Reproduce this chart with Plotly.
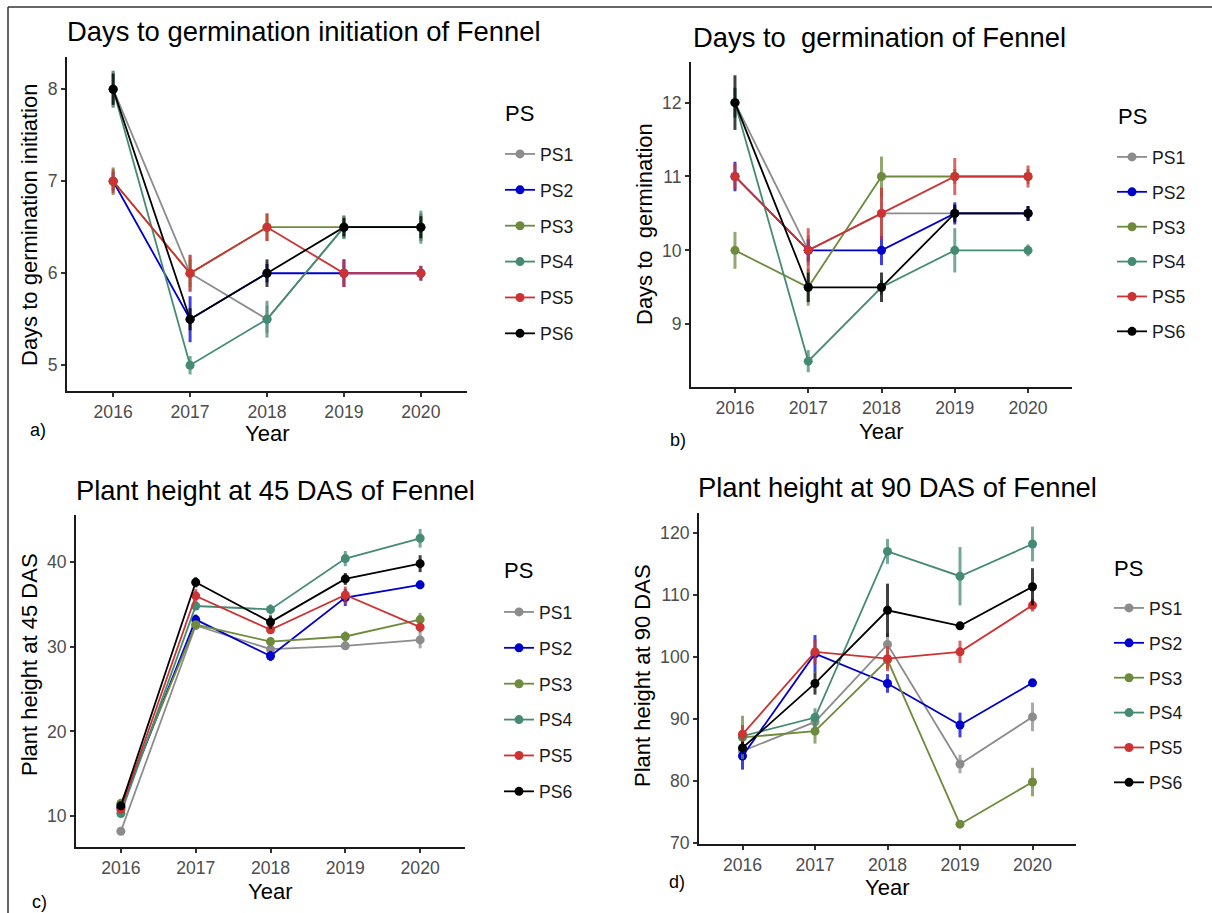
import plotly.graph_objects as go

W, H = 1212, 913

years = ["2016", "2017", "2018", "2019", "2020"]
ps_names = ["PS1", "PS2", "PS3", "PS4", "PS5", "PS6"]
ps_colors = ["#8c8c8c", "#0000cd", "#6e8b3d", "#458b74", "#cd3333", "#000000"]

# a) days to germination initiation
init_mean = {
    "PS1": [8, 6, 5.5, 6.5, 6.5],
    "PS2": [7, 5.5, 6, 6, 6],
    "PS3": [7, 6, 6.5, 6.5, 6.5],
    "PS4": [8, 5, 5.5, 6.5, 6.5],
    "PS5": [7, 6, 6.5, 6, 6],
    "PS6": [8, 5.5, 6, 6.5, 6.5],
}
init_se = {
    "PS1": [0.2, 0.2, 0.15, 0.12, 0.15],
    "PS2": [0.1, 0.25, 0.1, 0.15, 0.08],
    "PS3": [0.15, 0.15, 0.15, 0.12, 0.15],
    "PS4": [0.2, 0.1, 0.2, 0.13, 0.18],
    "PS5": [0.13, 0.2, 0.15, 0.15, 0.08],
    "PS6": [0.17, 0.12, 0.15, 0.1, 0.12],
}

# b) days to germination
germ_mean = {
    "PS1": [12, 10, 10.5, 10.5, 10.5],
    "PS2": [11, 10, 10, 10.5, 10.5],
    "PS3": [10, 9.5, 11, 11, 11],
    "PS4": [12, 8.5, 9.5, 10, 10],
    "PS5": [11, 10, 10.5, 11, 11],
    "PS6": [12, 9.5, 9.5, 10.5, 10.5],
}
germ_se = {
    "PS1": [0.2, 0.2, 0.3, 0.1, 0.06],
    "PS2": [0.2, 0.15, 0.2, 0.15, 0.1],
    "PS3": [0.25, 0.25, 0.27, 0.1, 0.1],
    "PS4": [0.2, 0.15, 0.1, 0.3, 0.08],
    "PS5": [0.17, 0.3, 0.35, 0.25, 0.15],
    "PS6": [0.37, 0.2, 0.2, 0.12, 0.1],
}

# c) plant height at 45 DAS
h45_mean = {
    "PS1": [8.2, 32.5, 29.7, 30.1, 30.8],
    "PS2": [11.0, 33.2, 28.9, 35.8, 37.3],
    "PS3": [11.5, 32.6, 30.6, 31.2, 33.2],
    "PS4": [10.3, 34.8, 34.4, 40.4, 42.8],
    "PS5": [10.8, 36.0, 32.0, 36.1, 32.3],
    "PS6": [11.2, 37.6, 32.9, 38.0, 39.8],
}
h45_se = {
    "PS1": [0.3, 0.5, 0.5, 0.4, 1.0],
    "PS2": [0.4, 0.6, 0.6, 1.0, 0.5],
    "PS3": [0.3, 0.4, 0.5, 0.6, 0.8],
    "PS4": [0.3, 0.5, 0.6, 0.9, 1.1],
    "PS5": [0.4, 0.8, 0.5, 1.0, 0.6],
    "PS6": [0.5, 0.6, 0.8, 0.7, 1.0],
}

# d) plant height at 90 DAS
h90_mean = {
    "PS1": [84.8, 89.5, 102.0, 82.7, 90.3],
    "PS2": [84.0, 100.5, 95.7, 89.0, 95.8],
    "PS3": [87.0, 88.0, 99.5, 73.0, 79.8],
    "PS4": [87.2, 90.2, 117.0, 113.0, 118.2],
    "PS5": [87.5, 100.8, 99.7, 100.8, 108.3],
    "PS6": [85.3, 95.7, 107.5, 105.0, 111.3],
}
h90_se = {
    "PS1": [1.5, 1.5, 1.8, 1.5, 2.3],
    "PS2": [2.2, 3.0, 1.5, 2.0, 0.6],
    "PS3": [3.5, 2.0, 1.5, 0.5, 2.3],
    "PS4": [1.0, 1.5, 2.0, 4.7, 2.8],
    "PS5": [1.5, 2.0, 2.0, 1.8, 1.0],
    "PS6": [1.0, 1.8, 4.3, 0.6, 3.0],
}

FONT = "Liberation Sans, Arial, sans-serif"


def hex_rgba(hx, a):
    hx = hx.lstrip("#")
    r, g, b = int(hx[0:2], 16), int(hx[2:4], 16), int(hx[4:6], 16)
    return f"rgba({r},{g},{b},{a})"


# panel layout in pixels: plot box (left, right, top, bottom), y range,
# y tick values, titles, legend heading and first legend row, row gap
panels = [
    dict(key="a", mean=init_mean, se=init_se, box=(67, 467, 57, 391),
         yr=[4.72, 8.35], yt=[5, 6, 7, 8],
         title="Days to germination initiation of Fennel", tpos=(304, 31),
         ytitle="Days to germination initiation", ytpos=(29, 225),
         xtpos=(267, 433), lab="a)", lpos=(38, 430),
         ps=(503, 113), row1=(500, 152), gap=10),
    dict(key="b", mean=germ_mean, se=germ_se, box=(691, 1072, 62, 387),
         yr=[8.15, 12.55], yt=[9, 10, 11, 12],
         title="Days to  germination of Fennel", tpos=(879, 38),
         ytitle="Days to  germination", ytpos=(644, 224),
         xtpos=(881, 431), lab="b)", lpos=(678, 440),
         ps=(1116, 116), row1=(1112, 155), gap=9),
    dict(key="c", mean=h45_mean, se=h45_se, box=(76, 465, 515, 847),
         yr=[6.34, 45.55], yt=[10, 20, 30, 40],
         title="Plant height at 45 DAS of Fennel", tpos=(275, 491),
         ytitle="Plant height at 45 DAS", ytpos=(29, 665),
         xtpos=(270, 891), lab="c)", lpos=(40, 902),
         ps=(502, 570), row1=(499, 610), gap=10),
    dict(key="d", mean=h90_mean, se=h90_se, box=(699, 1076, 513, 844),
         yr=[69.8, 123.2], yt=[70, 80, 90, 100, 110, 120],
         title="Plant height at 90 DAS of Fennel", tpos=(897, 488),
         ytitle="Plant height at 90 DAS", ytpos=(642, 676),
         xtpos=(887, 887), lab="d)", lpos=(677, 882),
         ps=(1112, 568), row1=(1109, 606), gap=9),
]

ROW_OFFSET = 16  # distance from legend box top to centre of its first row

fig = go.Figure()
layout = dict(
    width=W, height=H,
    margin=dict(l=0, r=0, t=0, b=0),
    paper_bgcolor="white", plot_bgcolor="white",
    font=dict(family=FONT, color="#000000"),
    showlegend=True,
    annotations=[], shapes=[],
)

for i, p in enumerate(panels):
    n = "" if i == 0 else str(i + 1)
    xa, ya = "x" + n, "y" + n
    leg_id = "legend" + n
    for ps, col in zip(ps_names, ps_colors):
        fig.add_trace(go.Scatter(
            x=years, y=p["mean"][ps],
            error_y=dict(type="data", array=p["se"][ps], visible=True,
                         color=hex_rgba(col, 0.75), thickness=3, width=0),
            mode="lines+markers", name=ps,
            line=dict(color=col, width=1.8),
            marker=dict(color=col, size=9),
            xaxis=xa, yaxis=ya, legend=leg_id,
            legendgroup=p["key"] + ps,
        ))
    l, r, t, b = p["box"]
    axis_common = dict(
        showline=True, linecolor="#1a1a1a", linewidth=2,
        ticks="outside", ticklen=4, tickwidth=1.5, tickcolor="#333333",
        tickfont=dict(size=17.6, color="#4d4d4d"), showgrid=False,
        zeroline=False, automargin=False,
    )
    layout["xaxis" + n] = dict(domain=[l / W, r / W], anchor=ya,
                               type="category", range=[-0.6, 4.6],
                               **axis_common)
    layout["yaxis" + n] = dict(domain=[1 - b / H, 1 - t / H], anchor=xa,
                               range=p["yr"], tickvals=p["yt"],
                               **axis_common)
    lx, ly = p["row1"]
    layout[leg_id] = dict(
        x=lx / W, y=1 - (ly - ROW_OFFSET) / H, xanchor="left", yanchor="top",
        font=dict(size=17.6, color="#1a1a1a"),
        tracegroupgap=p["gap"], bgcolor="rgba(0,0,0,0)",
    )
    anns = layout["annotations"]

    def add_text(text, pos, size, **kw):
        anns.append(dict(text=text, x=pos[0] / W, y=1 - pos[1] / H,
                         xref="paper", yref="paper", showarrow=False,
                         yanchor="middle", font=dict(size=size, color="#000000"),
                         **kw))

    add_text(p["title"], p["tpos"], 27.4, xanchor="center")
    add_text(p["ytitle"], p["ytpos"], 22, xanchor="center", textangle=-90)
    add_text("Year", p["xtpos"], 22, xanchor="center")
    add_text(p["lab"], p["lpos"], 18, xanchor="center")
    add_text("PS", p["ps"], 22, xanchor="left")

# outer frame along the top and left edges
fx, fy = 8 / W, 1 - 7 / H
layout["shapes"] = [
    dict(type="line", xref="paper", yref="paper", x0=fx, y0=fy, x1=1, y1=fy,
         line=dict(color="#333333", width=1.5)),
    dict(type="line", xref="paper", yref="paper", x0=fx, y0=fy, x1=fx, y1=0,
         line=dict(color="#333333", width=1.5)),
]

fig.update_layout(**layout)
fig.write_html("out.html")
